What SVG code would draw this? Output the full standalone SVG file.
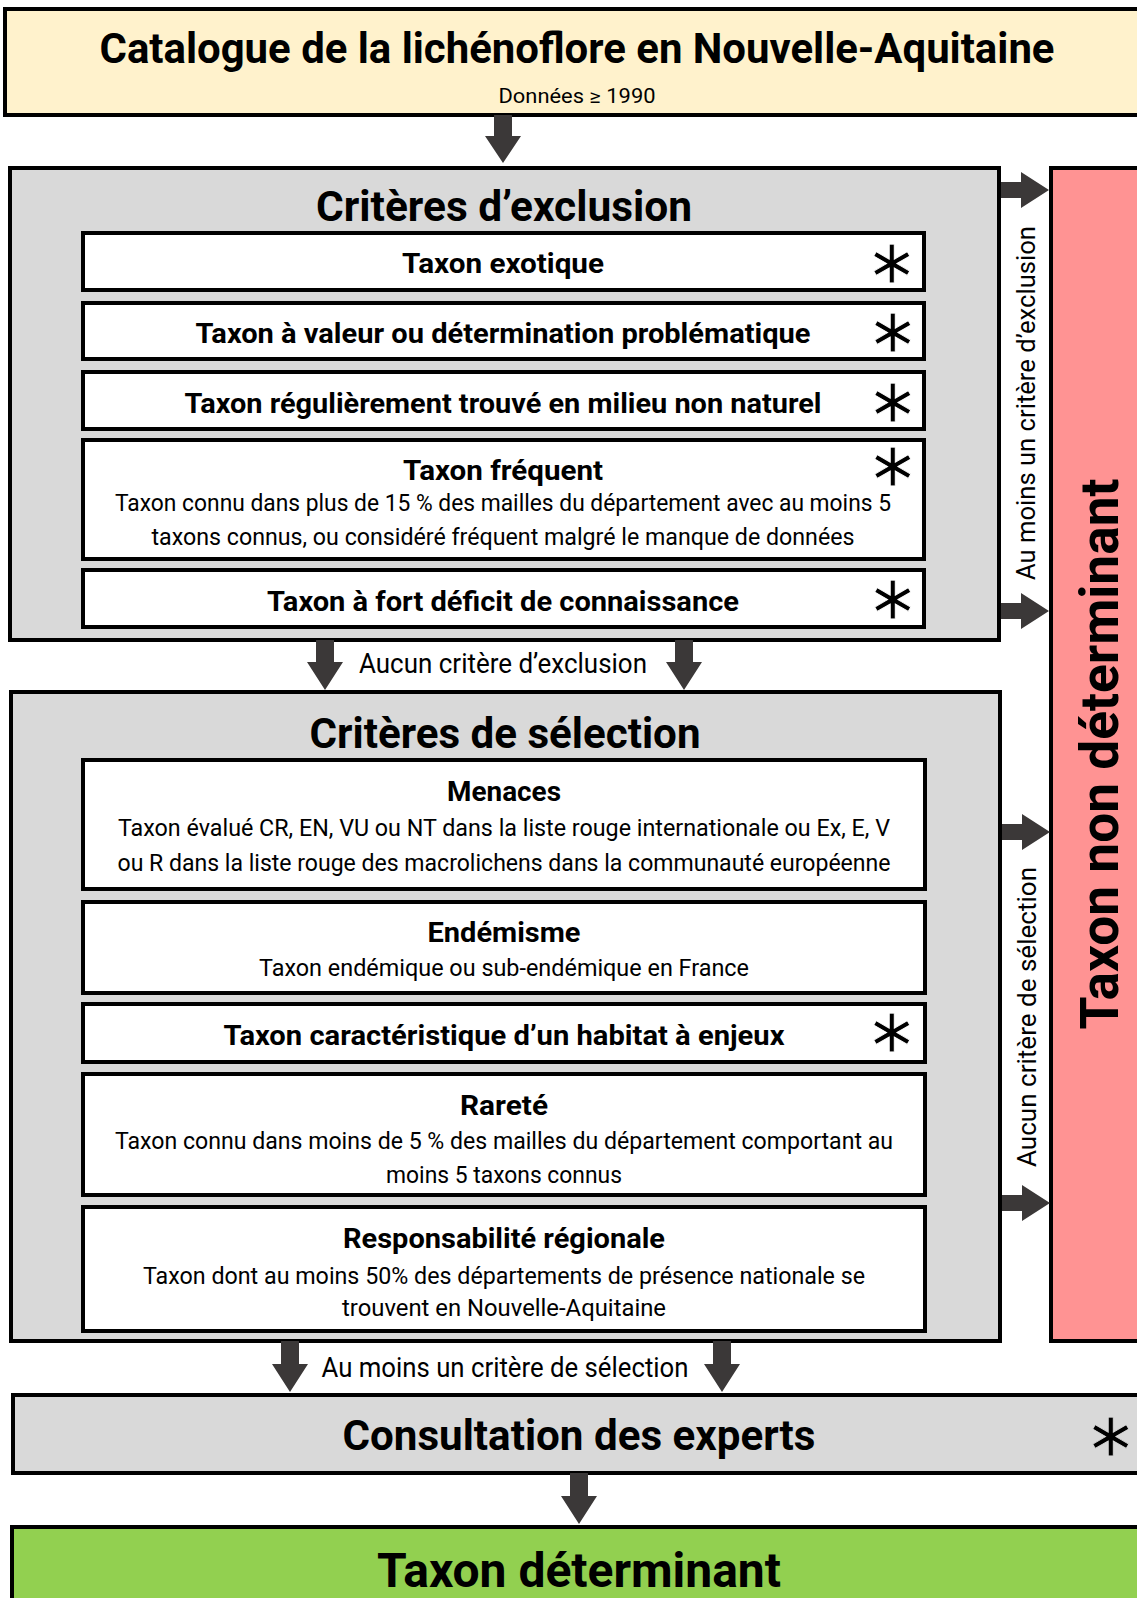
<svg xmlns="http://www.w3.org/2000/svg" width="1137" height="1598" viewBox="0 0 1137 1598">
<style>
.box{stroke:#000;stroke-width:4}
.white{fill:#fff}
.gray{fill:#d9d9d9}
.b{font-family:Roboto,"Liberation Sans",sans-serif;font-weight:bold;fill:#000;text-anchor:middle}
.r{font-family:Roboto,"Liberation Sans",sans-serif;font-weight:normal;fill:#000;text-anchor:middle}
.ast{font-family:"DejaVu Sans",sans-serif;font-size:62px;fill:#000;text-anchor:middle;stroke:#fff;stroke-width:0.9}
.astg{stroke:#d9d9d9}
.arr{fill:#3b3838}
</style>
<rect width="1137" height="1598" fill="#fff"/>

<g id="catalogue">
<rect class="box" x="5" y="9" width="1140" height="106" fill="#fff2cc"/>
<text class="b" x="577" y="63" font-size="42" textLength="955" lengthAdjust="spacingAndGlyphs">Catalogue de la lichénoflore en Nouvelle-Aquitaine</text>
<text class="r" x="577" y="103" font-size="20" textLength="157" lengthAdjust="spacingAndGlyphs">Données ≥ 1990</text>
</g>

<g id="exclusion">
<rect class="box gray" x="10" y="168" width="989" height="472"/>
<text class="b" x="504" y="221" font-size="42" textLength="376" lengthAdjust="spacingAndGlyphs">Critères d’exclusion</text>
</g>
<g id="exotique">
<rect class="box white" x="83" y="233" width="841" height="57"/>
<text class="b" x="503" y="273" font-size="28" textLength="202" lengthAdjust="spacingAndGlyphs">Taxon exotique</text>
<text class="ast" x="892" y="283">∗</text>
</g>
<g id="valeur">
<rect class="box white" x="83" y="303" width="841" height="56"/>
<text class="b" x="503" y="343" font-size="28" textLength="615" lengthAdjust="spacingAndGlyphs">Taxon à valeur ou détermination problématique</text>
<text class="ast" x="893" y="352">∗</text>
</g>
<g id="nonnaturel">
<rect class="box white" x="83" y="372" width="841" height="57"/>
<text class="b" x="503" y="413" font-size="28" textLength="637" lengthAdjust="spacingAndGlyphs">Taxon régulièrement trouvé en milieu non naturel</text>
<text class="ast" x="893" y="422">∗</text>
</g>
<g id="frequent">
<rect class="box white" x="83" y="440" width="841" height="119"/>
<text class="b" x="503" y="480" font-size="28" textLength="200" lengthAdjust="spacingAndGlyphs">Taxon fréquent</text>
<text class="r" x="503" y="511" font-size="23" textLength="776" lengthAdjust="spacingAndGlyphs">Taxon connu dans plus de 15 % des mailles du département avec au moins 5</text>
<text class="r" x="503" y="545" font-size="23" textLength="703" lengthAdjust="spacingAndGlyphs">taxons connus, ou considéré fréquent malgré le manque de données</text>
<text class="ast" x="893" y="486">∗</text>
</g>
<g id="deficit">
<rect class="box white" x="83" y="570" width="841" height="57"/>
<text class="b" x="503" y="611" font-size="28" textLength="472" lengthAdjust="spacingAndGlyphs">Taxon à fort déficit de connaissance</text>
<text class="ast" x="893" y="619">∗</text>
</g>

<g id="selection">
<rect class="box gray" x="11" y="692" width="989" height="649"/>
<text class="b" x="505" y="748" font-size="42" textLength="391" lengthAdjust="spacingAndGlyphs">Critères de sélection</text>
</g>
<g id="menaces">
<rect class="box white" x="83" y="760" width="842" height="129"/>
<text class="b" x="504" y="801" font-size="28" textLength="114" lengthAdjust="spacingAndGlyphs">Menaces</text>
<text class="r" x="504" y="836" font-size="23" textLength="772" lengthAdjust="spacingAndGlyphs">Taxon évalué CR, EN, VU ou NT dans la liste rouge internationale ou Ex, E, V</text>
<text class="r" x="504" y="871" font-size="23" textLength="773" lengthAdjust="spacingAndGlyphs">ou R dans la liste rouge des macrolichens dans la communauté européenne</text>
</g>
<g id="endemisme">
<rect class="box white" x="83" y="902" width="842" height="91"/>
<text class="b" x="504" y="942" font-size="28" textLength="153" lengthAdjust="spacingAndGlyphs">Endémisme</text>
<text class="r" x="504" y="976" font-size="23" textLength="490" lengthAdjust="spacingAndGlyphs">Taxon endémique ou sub-endémique en France</text>
</g>
<g id="habitat">
<rect class="box white" x="83" y="1004" width="842" height="58"/>
<text class="b" x="504" y="1045" font-size="28" textLength="561" lengthAdjust="spacingAndGlyphs">Taxon caractéristique d’un habitat à enjeux</text>
<text class="ast" x="892" y="1052">∗</text>
</g>
<g id="rarete">
<rect class="box white" x="83" y="1074" width="842" height="121"/>
<text class="b" x="504" y="1115" font-size="28" textLength="88" lengthAdjust="spacingAndGlyphs">Rareté</text>
<text class="r" x="504" y="1149" font-size="23" textLength="778" lengthAdjust="spacingAndGlyphs">Taxon connu dans moins de 5 % des mailles du département comportant au</text>
<text class="r" x="504" y="1183" font-size="23" textLength="236" lengthAdjust="spacingAndGlyphs">moins 5 taxons connus</text>
</g>
<g id="responsabilite">
<rect class="box white" x="83" y="1207" width="842" height="124"/>
<text class="b" x="504" y="1248" font-size="28" textLength="322" lengthAdjust="spacingAndGlyphs">Responsabilité régionale</text>
<text class="r" x="504" y="1284" font-size="23" textLength="722" lengthAdjust="spacingAndGlyphs">Taxon dont au moins 50% des départements de présence nationale se</text>
<text class="r" x="504" y="1316" font-size="23" textLength="324" lengthAdjust="spacingAndGlyphs">trouvent en Nouvelle-Aquitaine</text>
</g>

<g id="nondeterminant">
<rect class="box" x="1051" y="168" width="100" height="1173" fill="#ff9393"/>
<text class="b" transform="translate(1118,754) rotate(-90)" font-size="53" textLength="551" lengthAdjust="spacingAndGlyphs">Taxon non déterminant</text>
</g>

<g id="consultation">
<rect class="box gray" x="13" y="1395" width="1140" height="78"/>
<text class="b" x="579" y="1450" font-size="42" textLength="473" lengthAdjust="spacingAndGlyphs">Consultation des experts</text>
<text class="ast astg" x="1111" y="1456">∗</text>
</g>

<g id="determinant">
<rect class="box" x="12" y="1527" width="1140" height="90" fill="#92d050"/>
<text class="b" x="579" y="1587" font-size="48" textLength="404" lengthAdjust="spacingAndGlyphs">Taxon déterminant</text>
</g>

<g id="connectors">
<path class="arr" d="M494,115 H512 V136 H521 L503,163 L485,136 H494 Z"/>
<path class="arr" d="M316,640 H334 V662 H343 L325,690 L307,662 H316 Z"/>
<path class="arr" d="M675,640 H693 V662 H702 L684,690 L666,662 H675 Z"/>
<text class="r" x="503" y="673" font-size="27" textLength="288" lengthAdjust="spacingAndGlyphs">Aucun critère d’exclusion</text>
<path class="arr" d="M281,1341 H299 V1364 H308 L290,1392 L272,1364 H281 Z"/>
<path class="arr" d="M713,1341 H731 V1364 H740 L722,1392 L704,1364 H713 Z"/>
<text class="r" x="505" y="1377" font-size="27" textLength="367" lengthAdjust="spacingAndGlyphs">Au moins un critère de sélection</text>
<path class="arr" d="M570,1473 H588 V1496 H597 L579,1524 L561,1496 H570 Z"/>
<path class="arr" d="M1001,182 V198 H1021 V208 L1049,190 L1021,172 V182 Z"/>
<path class="arr" d="M1001,603 V619 H1021 V629 L1049,611 L1021,593 V603 Z"/>
<path class="arr" d="M1002,824 V840 H1022 V850 L1050,832 L1022,814 V824 Z"/>
<path class="arr" d="M1002,1195 V1211 H1022 V1221 L1050,1203 L1022,1185 V1195 Z"/>
<text class="r" transform="translate(1035,403) rotate(-90)" font-size="25" textLength="354" lengthAdjust="spacingAndGlyphs">Au moins un critère d’exclusion</text>
<text class="r" transform="translate(1036,1017) rotate(-90)" font-size="25" textLength="300" lengthAdjust="spacingAndGlyphs">Aucun critère de sélection</text>
</g>
</svg>
